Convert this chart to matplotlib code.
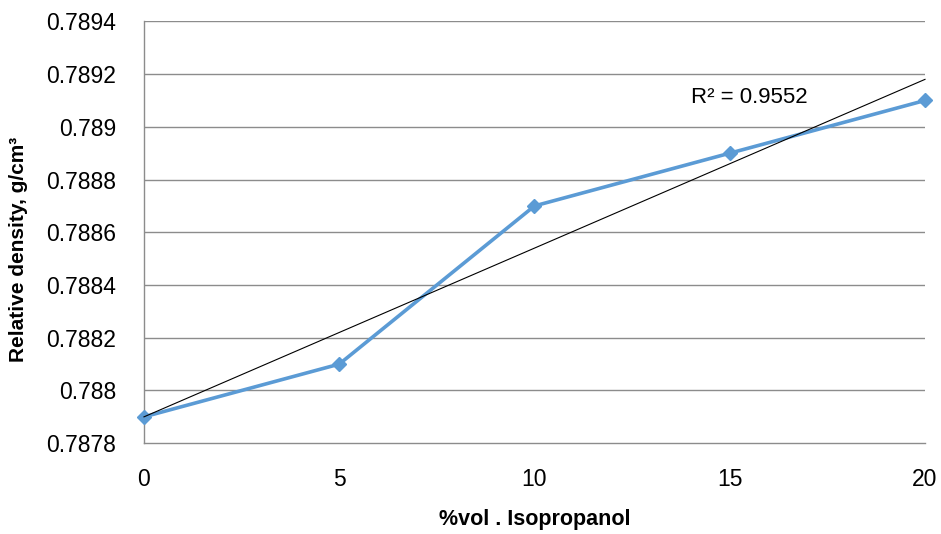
import matplotlib.pyplot as plt
import numpy as np

plt.rcParams['font.family'] = ['Liberation Sans', 'DejaVu Sans']

vol_pct = [0, 5, 10, 15, 20]
density = [0.7879, 0.7881, 0.7887, 0.7889, 0.7891]
y_ticks = [0.7878, 0.788, 0.7882, 0.7884, 0.7886, 0.7888, 0.789, 0.7892, 0.7894]
x_ticks = [0, 5, 10, 15, 20]

# linear trend line and its R^2
coef = np.polyfit(vol_pct, density, 1)
fit = np.polyval(coef, vol_pct)
ss_res = np.sum((np.array(density) - fit) ** 2)
ss_tot = np.sum((np.array(density) - np.mean(density)) ** 2)
r2 = 1 - ss_res / ss_tot

fig = plt.figure(figsize=(9.41, 5.34), dpi=100)
ax = fig.add_axes([0.153, 0.170, 0.830, 0.790])

grid_col = '#8c8c8c'
for t in y_ticks[1:]:
    ax.axhline(t, color=grid_col, lw=1, zorder=0)

ax.plot(vol_pct, density, color='#5B9BD5', lw=2.6, marker='D', ms=7.5,
        zorder=3, clip_on=False)
ax.plot([vol_pct[0], vol_pct[-1]], np.polyval(coef, [vol_pct[0], vol_pct[-1]]),
        color='black', lw=0.8, zorder=4, clip_on=False)

ax.text(14.0, 0.78911, 'R² = %.4f' % r2, fontsize=16, va='center', ha='left')

ax.set_xlim(0, 20)
ax.set_ylim(0.7878, 0.7894)
ax.set_xticks(x_ticks)
ax.set_yticks(y_ticks)
ax.set_yticklabels([('%.4f' % t).rstrip('0') for t in y_ticks])
ax.tick_params(length=0, labelsize=16.5, pad=20)
ax.tick_params(axis='x', pad=18)

for s in ['top', 'right']:
    ax.spines[s].set_visible(False)
for s in ['left', 'bottom']:
    ax.spines[s].set_color(grid_col)
    ax.spines[s].set_linewidth(1)

ax.set_xlabel('%vol . Isopropanol', fontsize=15.5, fontweight='bold')
ax.set_ylabel('Relative density, g/cm³', fontsize=15, fontweight='bold')
ax.xaxis.set_label_coords(0.5, -0.182)
ax.yaxis.set_label_coords(-0.161, 0.46)
ax.xaxis.label.set_va('center')
ax.yaxis.label.set_va('center')

fig.savefig('out.png', dpi=100)
